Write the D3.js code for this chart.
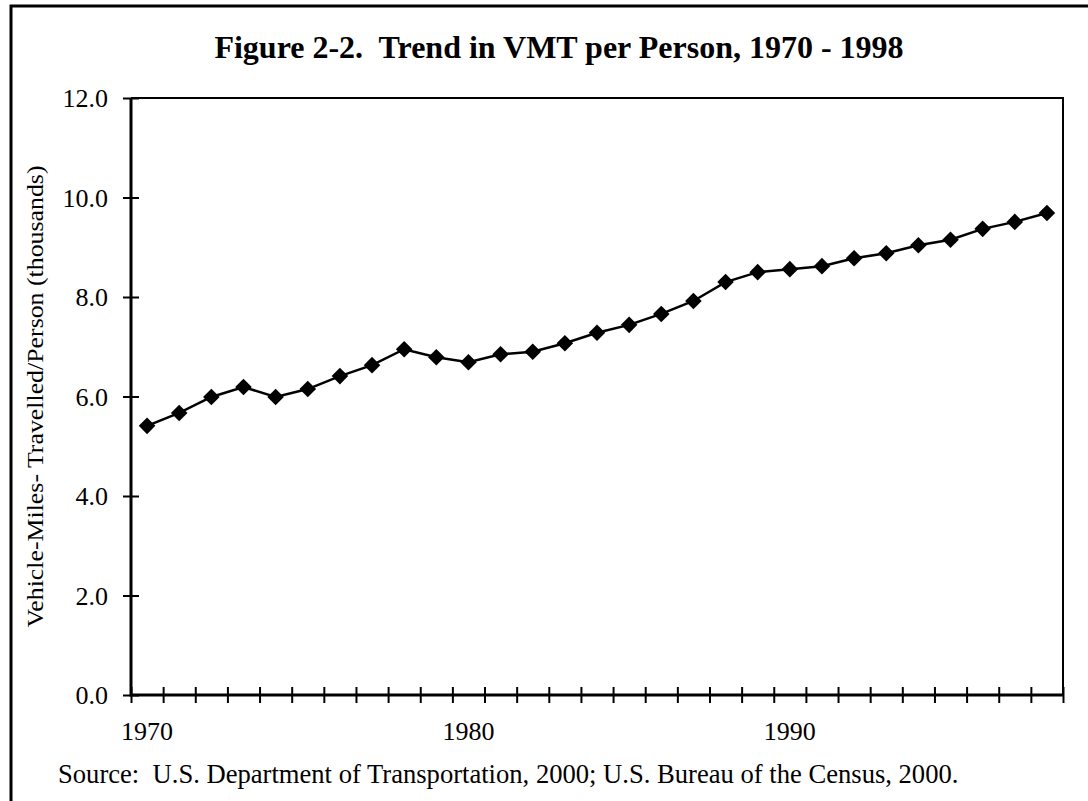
<!DOCTYPE html>
<html>
<head>
<meta charset="utf-8">
<script src="https://cdn.jsdelivr.net/npm/d3@7"></script>
<style>
  body { margin: 0; background: #fff; }
  text { font-family: "Liberation Serif", "Times New Roman", serif; fill: #000; }
</style>
</head>
<body>
<div id="chart"></div>
<script>
// data
var years = d3.range(1970, 1999);
var vmt = [5.41, 5.67, 5.99, 6.19, 5.99, 6.15, 6.41, 6.63, 6.95, 6.79,
           6.69, 6.85, 6.90, 7.07, 7.28, 7.44, 7.66, 7.92, 8.30, 8.50,
           8.56, 8.62, 8.78, 8.88, 9.04, 9.15, 9.37, 9.51, 9.69];
var yTicks = [0, 2, 4, 6, 8, 10, 12];
var xLabels = [1970, 1980, 1990];

var W = 1088, H = 801;
var plot = { left: 131, right: 1063, top: 98, bottom: 695 };

var svg = d3.select("#chart").append("svg")
    .attr("width", W)
    .attr("height", H);

// outer frame (only top and left visible, rest is cropped)
svg.append("path")
    .attr("d", "M11," + H + "V6H" + W)
    .attr("fill", "none")
    .attr("stroke", "#000")
    .attr("stroke-width", 3);

// set the ranges
var x = d3.scaleBand()
    .domain(years)
    .range([plot.left, plot.right])
    .padding(0);
var edge = d3.scaleLinear()
    .domain([1970, 1999])
    .range([plot.left, plot.right]);
var y = d3.scaleLinear()
    .domain([0, 12])
    .range([plot.bottom, plot.top]);

// plot area top/right border
svg.append("path")
    .attr("d", "M" + plot.left + "," + plot.top + "H" + plot.right + "V" + plot.bottom)
    .attr("fill", "none")
    .attr("stroke", "#000")
    .attr("stroke-width", 2);

// y axis
var yAxis = svg.append("g")
    .attr("transform", "translate(" + plot.left + ",0)")
    .call(d3.axisLeft(y).tickValues(yTicks).tickFormat(d3.format(".1f")).tickSize(8).tickPadding(15));
yAxis.select(".domain").remove();
yAxis.selectAll(".tick line").attr("x1", -8).attr("x2", 8).attr("stroke-width", 2);
yAxis.selectAll(".tick text")
    .attr("font-size", 26)
    .attr("font-family", "Liberation Serif")
    .attr("dy", "0.34em");

// x axis ticks at category boundaries
var xTicks = svg.append("g")
    .attr("transform", "translate(0," + plot.bottom + ")")
    .call(d3.axisBottom(edge).tickValues(d3.range(1970, 2000)).tickFormat(""));
xTicks.select(".domain").remove();
xTicks.selectAll(".tick line").attr("y1", -8).attr("y2", 8).attr("stroke-width", 2);

// x labels in the middle of the categories
var xAxis = svg.append("g")
    .attr("transform", "translate(0," + plot.bottom + ")")
    .call(d3.axisBottom(x).tickValues(xLabels).tickSize(0).tickPadding(0));
xAxis.select(".domain").remove();
xAxis.selectAll(".tick text")
    .attr("font-size", 26)
    .attr("font-family", "Liberation Serif")
    .attr("dy", null)
    .attr("y", 45);

// axis lines
svg.append("path")
    .attr("d", "M" + plot.left + "," + plot.top + "V" + plot.bottom + "H" + plot.right)
    .attr("fill", "none")
    .attr("stroke", "#000")
    .attr("stroke-width", 3);

// the line
var line = d3.line()
    .x(function (d, i) { return x(years[i]) + x.bandwidth() / 2; })
    .y(function (d) { return y(d); });

svg.append("path")
    .datum(vmt)
    .attr("d", line)
    .attr("fill", "none")
    .attr("stroke", "#000")
    .attr("stroke-width", 2.5);

// diamond markers
var diamond = d3.symbol().type(d3.symbolDiamond2).size(175);
svg.selectAll(".pt")
    .data(vmt)
    .enter().append("path")
    .attr("class", "pt")
    .attr("d", diamond)
    .attr("transform", function (d, i) {
        return "translate(" + (x(years[i]) + x.bandwidth() / 2) + "," + y(d) + ")";
    })
    .attr("fill", "#000");

// title
svg.append("text")
    .attr("x", 559)
    .attr("y", 58)
    .attr("text-anchor", "middle")
    .attr("font-size", 32)
    .attr("font-weight", "bold")
    .style("white-space", "pre")
    .text("Figure 2-2.  Trend in VMT per Person, 1970 - 1998");

// y label
svg.append("text")
    .attr("transform", "translate(43," + ((plot.top + plot.bottom) / 2) + ") rotate(-90)")
    .attr("text-anchor", "middle")
    .attr("font-size", 24)
    .attr("textLength", 462)
    .attr("lengthAdjust", "spacingAndGlyphs")
    .style("white-space", "pre")
    .text("Vehicle-Miles- Travelled/Person (thousands)");

// source note
svg.append("text")
    .attr("x", 58)
    .attr("y", 783)
    .attr("font-size", 26.6)
    .style("white-space", "pre")
    .text("Source:  U.S. Department of Transportation, 2000; U.S. Bureau of the Census, 2000.");
</script>
</body>
</html>
